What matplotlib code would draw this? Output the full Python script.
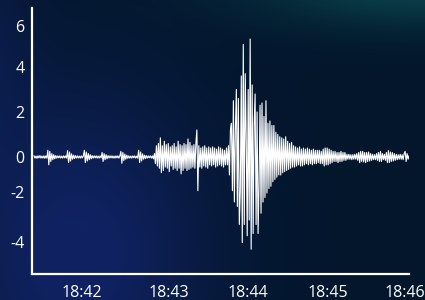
import numpy as np
import matplotlib
matplotlib.use("Agg")
import matplotlib.pyplot as plt

# seismograph trace, one reading per pixel column
wave = [
    0.05, -0.05, 0.04, -0.06, 0.05, -0.04, 0.06, -0.05, 0.04, -0.05, 0.05, -0.06, 0.05, -0.05, 0.3, -0.35, 0.25, -0.2, 0.15, -0.12,
    0.1, -0.08, 0.06, -0.05, 0.05, -0.04, 0.05, -0.05, 0.04, -0.05, 0.05, -0.04, 0.05, -0.05, 0.28, -0.25, 0.22, -0.18, 0.14, -0.1,
    0.08, -0.07, 0.06, -0.05, 0.05, -0.05, 0.04, -0.05, 0.05, -0.04, 0.05, 0.3, -0.25, 0.22, -0.18, 0.15, -0.12, 0.1, -0.08, 0.06,
    -0.05, 0.05, -0.04, 0.05, -0.05, 0.04, -0.05, 0.05, -0.04, 0.2, -0.2, 0.15, -0.12, 0.1, -0.08, 0.06, -0.05, 0.05, -0.04, 0.05,
    -0.05, 0.04, -0.05, 0.05, -0.04, 0.05, -0.05, 0.05, 0.25, -0.28, 0.2, -0.16, 0.13, -0.1, 0.08, -0.06, 0.05, -0.05, 0.04, -0.05,
    0.05, -0.04, 0.05, -0.05, 0.04, -0.05, 0.3, -0.25, 0.22, -0.18, 0.14, -0.1, 0.08, -0.07, 0.06, -0.05, 0.05, -0.04, 0.05, -0.05,
    0.05, -0.08, 0.15, -0.3, 0.5, -0.4, 0.6, -0.5, 0.85, -0.7, 0.5, -0.6, 0.7, -0.45, 0.55, -0.5, 0.6, -0.65, 0.45, -0.4,
    0.5, -0.55, 0.6, -0.5, 0.45, -0.6, 0.7, -0.5, 0.55, -0.75, 0.5, -0.6, 0.6, -0.5, 0.55, -0.6, 0.8, -0.55, 0.65, -0.5,
    0.5, -0.45, 0.55, -0.5, 0.6, 1.2, -1.5, 0.5, -0.45, 0.4, -0.5, 0.45, -0.4, 0.5, -0.45, 0.4, -0.5, 0.45, -0.35, 0.4,
    -0.4, 0.45, -0.35, 0.4, -0.45, 0.35, -0.4, 0.45, -0.35, 0.4, -0.4, 0.35, -0.45, 0.3, -0.35, 0.4, -0.35, 0.5, -0.8, 1.2,
    1.5, -1.5, 2.5, -2.0, 1.2, 3.0, -2.2, 2.6, -3.0, -1.5, 3.6, -3.8, 5.0, -3.0, 3.7, 0.8, -3.5, 3.0, -2.8, 5.24,
    -4.1, 3.2, -3.4, 1.4, 2.8, -3.0, 2.0, -3.4, -1.2, 2.3, -2.5, 2.4, -2.0, 1.8, -1.8, 2.5, -1.6, 1.5, -1.4, 1.6,
    -1.3, 1.4, -1.1, 1.4, -1.0, 1.1, -0.9, 1.0, -0.8, 0.9, -0.8, 0.85, -0.7, 0.8, -0.65, 0.9, -0.6, 0.7, -0.55, 0.6,
    -0.5, 0.65, -0.45, 0.5, -0.45, 0.45, -0.4, 0.4, -0.35, 0.45, -0.4, 0.35, -0.4, 0.4, -0.35, 0.35, -0.3, 0.4, -0.35, 0.35,
    -0.3, 0.3, -0.35, 0.35, -0.3, 0.3, -0.3, 0.3, -0.25, 0.3, -0.3, 0.25, -0.3, 0.35, -0.4, 0.4, -0.35, 0.4, -0.35, 0.35,
    -0.3, 0.3, -0.25, 0.25, -0.2, 0.25, -0.2, 0.2, -0.25, 0.2, -0.2, 0.25, -0.2, 0.2, -0.15, 0.2, -0.15, 0.12, -0.1, 0.12,
    -0.1, 0.1, -0.12, 0.1, -0.1, 0.12, -0.1, 0.15, -0.15, 0.2, -0.25, 0.25, -0.2, 0.25, -0.22, 0.2, -0.25, 0.2, -0.2, 0.22,
    -0.18, 0.15, -0.15, 0.12, -0.12, 0.1, -0.12, 0.15, -0.15, 0.2, -0.2, 0.25, -0.2, 0.15, -0.12, 0.12, -0.15, 0.2, -0.25, 0.28,
    -0.25, 0.22, -0.2, 0.2, -0.18, 0.15, -0.15, 0.12, -0.12, 0.1, -0.1, 0.12, -0.1, 0.1, -0.12, 0.15, 0.25, -0.2, 0.15, -0.1, 0.05,
]
t_start = 41.406   # minutes past 18:00
t_end = 46.05

xtick_pos = [42.0, 43.077, 44.056, 45.046, 46.0]
xtick_labels = ["18:42", "18:43", "18:44", "18:45", "18:46"]
ytick_pos = [5.82, 4, 2, 0, -1.56, -3.78]
ytick_labels = ["6", "4", "2", "0", "-2", "-4"]

plt.rcParams['font.family'] = ['Open Sans', 'DejaVu Sans']

fig = plt.figure(figsize=(4.25, 3.0), dpi=100)

# background glow
H, W = 300, 425
yy, xx = np.mgrid[0:H, 0:W] / np.array([H, W]).reshape(2, 1, 1)
base = np.array([0x03, 0x16, 0x2c]) / 255.0
blue = np.array([0x10, 0x22, 0x62]) / 255.0
teal = np.array([0x0c, 0x4c, 0x52]) / 255.0
img = np.ones((H, W, 3)) * base
wb = np.exp(-(((xx - 0.18) / 0.3) ** 2 + ((yy - 0.85) / 0.55) ** 2))
wb = np.clip(wb * 1.05, 0, 1)[..., None]
img = img * (1 - wb) + blue * wb
wl = np.exp(-(((xx + 0.05) / 0.12) ** 2 + ((yy - 0.3) / 0.5) ** 2))[..., None] * 0.6
img = img * (1 - wl) + blue * wl
wt = np.exp(-(((xx - 0.98) / 0.4) ** 2 + ((yy + 0.05) / 0.14) ** 2))[..., None] * 0.8
img = img * (1 - wt) + teal * wt
bg = fig.add_axes([0, 0, 1, 1])
bg.imshow(img, aspect='auto', extent=[0, 1, 0, 1], origin='upper')
bg.axis('off')

ax = fig.add_axes([32 / 425, 26 / 300, 377 / 425, 266 / 300])
ax.patch.set_alpha(0)
t = np.linspace(t_start, t_end, len(wave))
ax.plot(t, wave, color='white', lw=0.8)

ax.set_xlim(41.381, 46.049)
ax.set_ylim(-5.2, 6.62)
for s in ['top', 'right']:
    ax.spines[s].set_visible(False)
for s in ['left', 'bottom']:
    ax.spines[s].set_color('white')
    ax.spines[s].set_linewidth(1.6)

ax.set_xticks(xtick_pos)
ax.set_xticklabels(xtick_labels)
ax.set_yticks(ytick_pos)
ax.set_yticklabels(ytick_labels)
ax.tick_params(axis='x', length=0, pad=8, colors='white', labelsize=11.5)
ax.tick_params(axis='y', length=0, pad=5.5, colors='white', labelsize=11.5)

fig.savefig("out.png", dpi=100)
